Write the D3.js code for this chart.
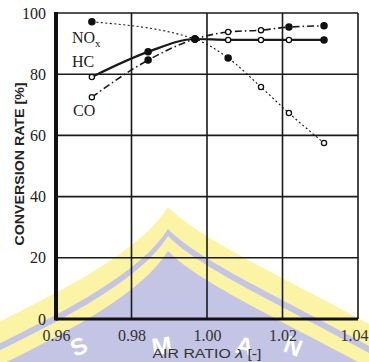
<!DOCTYPE html>
<html>
<head>
<meta charset="utf-8">
<script src="https://cdn.jsdelivr.net/npm/d3@7"></script>
<style>
  body { margin: 0; background: #fff; }
  svg { display: block; }
</style>
</head>
<body>
<div id="chart"></div>
<script>
// tick values
const xTicks = [0.96, 0.98, 1.00, 1.02, 1.04];
const xTickLabels = ["0.96", "0.98", "1.00", "1.02", "1.04"];
const yTicks = [0, 20, 40, 60, 80, 100];

// series
const noxX = [0.9695, 0.9968, 1.0056, 1.0143, 1.0217, 1.031];
const noxY = [97.1, 91.5, 85.3, 75.8, 67.3, 57.5];
const noxFilled = [1, 1, 1, 0, 0, 0];

const hcX = [0.9695, 0.9844, 0.9968, 1.0056, 1.0143, 1.0217, 1.031];
const hcY = [79.1, 87.3, 91.5, 91.2, 91.2, 91.2, 91.2];
const hcFilled = [0, 1, 1, 0, 0, 0, 1];

const coX = [0.9695, 0.9844, 0.9968, 1.0056, 1.0143, 1.0217, 1.031];
const coY = [72.5, 84.6, 91.5, 93.8, 94.4, 95.4, 95.8];
const coFilled = [0, 1, 1, 0, 0, 1, 1];

const W = 369, H = 362;
const margin = { top: 13, right: 11, bottom: 43, left: 56 };
const width = W - margin.left - margin.right;
const height = H - margin.top - margin.bottom;

const svg = d3.select("#chart").append("svg")
  .attr("width", W)
  .attr("height", H);

// watermark logo in the background (decoration only)
const wm = svg.append("g");
function dome(d) {
  return `M-10,${326 + d} C60,${292 + d} 140,${252 + d} 168,${207 + d}
          C200,${240 + d} 290,${280 + d} 380,${330 + d} L380,400 L-10,400 Z`;
}
wm.append("path").attr("d", dome(0)).attr("fill", "#fbf4a4");
wm.append("path").attr("d", dome(22)).attr("fill", "#c4c4e4");
wm.append("path").attr("d", dome(29)).attr("fill", "#fbf4a4");
wm.append("path").attr("d", dome(44)).attr("fill", "#c4c4e4");
const wmLetters = [["S", 82, 354, -24], ["M", 163, 354, -8], ["A", 243, 354, 12], ["N", 290, 354, 22]];
wm.selectAll("text.wm").data(wmLetters).enter().append("text")
  .attr("class", "wm")
  .attr("transform", d => `translate(${d[1]},${d[2]}) rotate(${d[3]})`)
  .attr("text-anchor", "middle")
  .style("font-family", "Liberation Sans, Arial, sans-serif")
  .style("font-weight", "bold")
  .style("font-size", "24px")
  .attr("fill", "#fff")
  .text(d => d[0]);

const g = svg.append("g")
  .attr("transform", `translate(${margin.left},${margin.top})`);

const x = d3.scaleLinear().domain([0.96, 1.04]).range([0, width]);
const y = d3.scaleLinear().domain([0, 100]).range([height, 0]);

// grid
g.selectAll(".vgrid").data(xTicks).enter().append("line")
  .attr("x1", d => x(d)).attr("x2", d => x(d))
  .attr("y1", 0).attr("y2", height)
  .attr("stroke", "#1a1a1a").attr("stroke-width", 1.6);
g.selectAll(".hgrid").data(yTicks).enter().append("line")
  .attr("x1", 0).attr("x2", width)
  .attr("y1", d => y(d)).attr("y2", d => y(d))
  .attr("stroke", "#1a1a1a").attr("stroke-width", 1.6);

// heavy left and bottom frame
g.append("line").attr("x1", 0).attr("x2", 0).attr("y1", -1).attr("y2", height + 1.5)
  .attr("stroke", "#111").attr("stroke-width", 4);
g.append("line").attr("x1", 0).attr("x2", width).attr("y1", height).attr("y2", height)
  .attr("stroke", "#111").attr("stroke-width", 3);

// axes (labels only)
const serif = "Liberation Serif, Times New Roman, serif";
const yAxis = g.append("g")
  .call(d3.axisLeft(y).tickValues(yTicks).tickSize(0).tickPadding(10));
yAxis.select(".domain").remove();
yAxis.selectAll("text")
  .style("font-family", serif).style("font-size", "16px").attr("fill", "#222");

const xAxis = g.append("g")
  .attr("transform", `translate(0,${height})`)
  .call(d3.axisBottom(x).tickValues(xTicks).tickSize(0).tickPadding(11)
    .tickFormat((d, i) => xTickLabels[i]));
xAxis.select(".domain").remove();
xAxis.selectAll("text")
  .style("font-family", serif).style("font-size", "16px").attr("fill", "#333")
  .attr("dx", (d, i) => i === xTicks.length - 1 ? -4 : 0);

// axis titles
svg.append("text")
  .attr("transform", `translate(24,164) rotate(-90)`)
  .attr("text-anchor", "middle")
  .attr("textLength", 163).attr("lengthAdjust", "spacingAndGlyphs")
  .style("font-family", "Liberation Sans, Arial, sans-serif")
  .style("font-weight", "bold").style("font-size", "13px")
  .attr("fill", "#222")
  .text("CONVERSION RATE [%]");

const xt = svg.append("text")
  .attr("x", 207).attr("y", 358)
  .attr("text-anchor", "middle")
  .attr("textLength", 109).attr("lengthAdjust", "spacingAndGlyphs")
  .style("font-family", "Liberation Sans, Arial, sans-serif")
  .style("font-size", "12px")
  .attr("fill", "#333");
xt.append("tspan").text("AIR RATIO ");
xt.append("tspan").style("font-style", "italic").text("λ");
xt.append("tspan").text(" [-]");

// series lines
const series = [
  { xs: noxX, ys: noxY, filled: noxFilled, curve: d3.curveMonotoneX, dash: "2,2.5", sw: 1.1 },
  { xs: coX, ys: coY, filled: coFilled, curve: d3.curveMonotoneX, dash: "7,3,1.5,3", sw: 1.6 },
  { xs: hcX, ys: hcY, filled: hcFilled, curve: d3.curveMonotoneX, dash: null, sw: 2.2 }
];

series.forEach(s => {
  const pts = s.xs.map((v, i) => [v, s.ys[i], s.filled[i]]);
  const line = d3.line().x(d => x(d[0])).y(d => y(d[1])).curve(s.curve);
  g.append("path").datum(pts)
    .attr("d", line)
    .attr("fill", "none")
    .attr("stroke", "#1a1a1a")
    .attr("stroke-width", s.sw)
    .attr("stroke-dasharray", s.dash);
  g.selectAll(null).data(pts).enter().append("circle")
    .attr("cx", d => x(d[0])).attr("cy", d => y(d[1]))
    .attr("r", d => d[2] ? 3.1 : 2.6)
    .attr("fill", d => d[2] ? "#111" : "#fff")
    .attr("stroke", "#111").attr("stroke-width", 1.3);
});

// in-plot series labels
const lab = g.append("g")
  .style("font-family", serif).style("font-size", "16px").attr("fill", "#222");
const nox = lab.append("text").attr("x", 72 - margin.left).attr("y", 43 - margin.top);
nox.append("tspan").text("NO");
nox.append("tspan").attr("dy", 4).style("font-size", "11px").text("x");
lab.append("text").attr("x", 72 - margin.left).attr("y", 67 - margin.top).text("HC");
lab.append("text").attr("x", 73 - margin.left).attr("y", 116 - margin.top).text("CO");
</script>
</body>
</html>
